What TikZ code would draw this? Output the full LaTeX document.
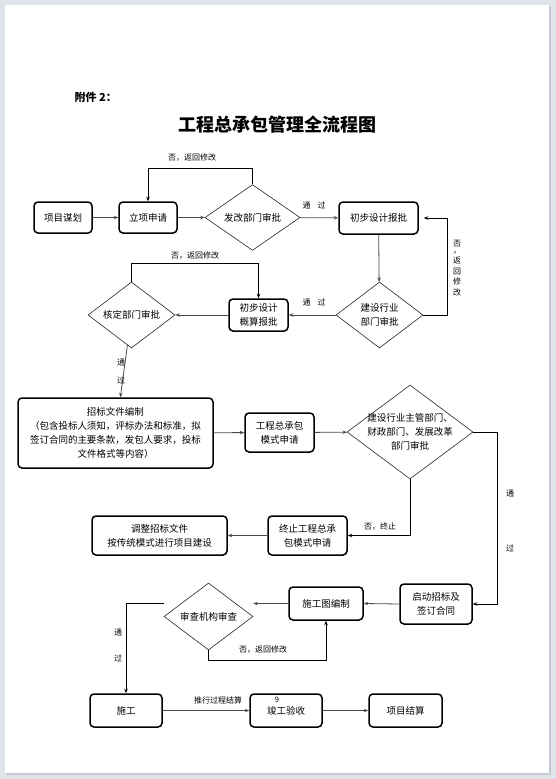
\documentclass[tikz,border=0pt]{standalone}
\usepackage{fontspec}
\setmainfont{Noto Sans CJK SC}
\usetikzlibrary{arrows.meta,positioning,calc,shapes.geometric}
\definecolor{pagebg}{HTML}{DFE3EA}
\definecolor{pageshade}{HTML}{C5CAD2}
\definecolor{flowgray}{HTML}{4A4A4A}

\begin{document}
\begin{tikzpicture}[
  x=1pt, y=-1pt,
  >={Stealth[length=4.5pt,width=3.5pt]},
  every node/.style={font=\fontsize{9.5}{14}\selectfont},
  proc/.style={draw, line width=1.5pt, rounded corners=4pt, align=center,
               inner sep=0pt},
  decide/.style={diamond, draw=black!85, line width=0.6pt, align=center,
                 inner sep=0pt},
  flow/.style={->, draw=flowgray, line width=0.8pt},
  back/.style={->, line width=0.7pt},
  note/.style={font=\fontsize{8}{10}\selectfont, inner sep=1pt},
]
\useasboundingbox (0,0) rectangle (556,779);
% page
\fill[pagebg] (0,0) rectangle (556,779);
\fill[pageshade] (6,6) rectangle (551,775);
\fill[white] (5,5) rectangle (549,773);

\node[font=\bfseries\fontsize{11}{13}\selectfont, anchor=west] (annex) at (71,97) {附件 2：};
\node[font=\bfseries\fontsize{18}{20}\selectfont] (title) at (277,125) {工程总承包管理全流程图};

% row 1
\node[proc, minimum width=58pt, minimum height=31pt] (plan) at (63,217.5) {项目谋划};
\node[proc, minimum width=58pt, minimum height=31pt] (apply) at (148,217.5) {立项申请};
\node[decide, minimum width=95pt, minimum height=65pt] (dev) at (252.5,217.5) {发改部门审批};
\node[proc, minimum width=79pt, minimum height=32pt] (prelim) at (378.5,218) {初步设计报批};

% row 2
\node[decide, minimum width=87pt, minimum height=66pt] (indus) at (379.5,315) {建设行业\\部门审批};
\node[proc, minimum width=59pt, minimum height=32pt] (budget) at (258.5,315) {初步设计\\概算报批};
\node[decide, minimum width=87pt, minimum height=66pt] (verify) at (131.5,315) {核定部门审批};

% row 3
\node[proc, minimum width=195pt, minimum height=70pt] (doc) at (115.5,433)
  {招标文件编制\\（包含投标人须知，评标办法和标准，拟\\签订合同的主要条款，发包人要求，投标\\文件格式等内容）};
\node[proc, minimum width=69pt, minimum height=39pt] (mode) at (279.5,432.5) {工程总承包\\模式申请};
\node[decide, minimum width=126pt, minimum height=94pt, inner sep=-8pt] (gov) at (410,432)
  {建设行业主管部门、\\财政部门、发展改革\\部门审批};

% row 4
\node[proc, minimum width=79pt, minimum height=39pt] (stop) at (307.5,535.5) {终止工程总承\\包模式申请};
\node[proc, minimum width=135pt, minimum height=39pt] (adjust) at (159.5,535.5) {调整招标文件\\按传统模式进行项目建设};

% row 5
\node[proc, minimum width=72pt, minimum height=40pt] (tender) at (436,604) {启动招标及\\签订合同};
\node[proc, minimum width=74pt, minimum height=33pt] (drawing) at (326,603.5) {施工图编制};
\node[decide, minimum width=89pt, minimum height=67pt] (review) at (208.5,616.5) {审查机构审查};

% row 6
\node[proc, minimum width=72pt, minimum height=33pt] (build) at (126,710.5) {施工};
\node[proc, minimum width=72pt, minimum height=33pt] (accept) at (286,710.5) {竣工验收};
\node[proc, minimum width=73pt, minimum height=33pt] (settle) at (405.5,710.5) {项目结算};
\node[font=\fontsize{7.5}{8}\selectfont, inner sep=0pt] (pageno) at (277,699.5) {9};

% connectors
\draw[flow] (plan) -- (apply);
\draw[flow] (apply) -- (dev);
\draw[back] (dev.north) -- ++(0,-16) -| (apply.north);
\node[note] (no1) at (192,158) {否，返回修改};
\draw[flow] (dev) -- (prelim);
\node[note] (ok1) at (314,205) {通\hspace{7pt}过};
\draw[flow] (prelim) -- (indus);
\draw[back, shorten >=5pt] (indus.east) -- ++(24,0) |- (prelim.east);
\node[note, align=center, font=\fontsize{8}{10.5}\selectfont] (no2) at (457,268)
  {否\\[-4pt]，\\返\\回\\修\\改};
\draw[flow] (indus) -- (budget);
\node[note] (ok2) at (314,302) {通\hspace{7pt}过};
\draw[flow] (budget) -- (verify);
\draw[back] (verify.north) -- ++(0,-18) -| (budget.north);
\node[note] (no3) at (195,256) {否，返回修改};
\draw[flow] (verify) -- (doc);
\node[note] (ok3) at (121,363) {通};
\node[note] (ok3b) at (121,380) {过};
\draw[flow] (doc) -- (mode);
\draw[flow] (mode) -- (gov);
\draw[back] (gov.south) |- (stop.east);
\node[note] (no4) at (380,527) {否，终止};
\draw[flow] (stop) -- (adjust);
\draw[back] (gov.east) -- ++(24,0) |- (tender.east);
\node[note] (ok4) at (510,494) {通};
\node[note] (ok4b) at (510,548) {过};
\draw[flow] (tender.west) -- (drawing.east);
\draw[flow] (drawing.west) -- (drawing.west -| review.east);
\draw[back] (drawing.west -| review.west) -| (build.north);
\node[note] (ok5) at (118,633) {通};
\node[note] (ok5b) at (118,658) {过};
\draw[back] (review.south) -- ++(0,10) -| (drawing.south);
\node[note] (no5) at (263,650) {否，返回修改};
\draw[flow] (build) -- (accept);
\node[note] (run) at (218,700) {推行过程结算};
\draw[flow] (accept) -- (settle);
\end{tikzpicture}
\end{document}
